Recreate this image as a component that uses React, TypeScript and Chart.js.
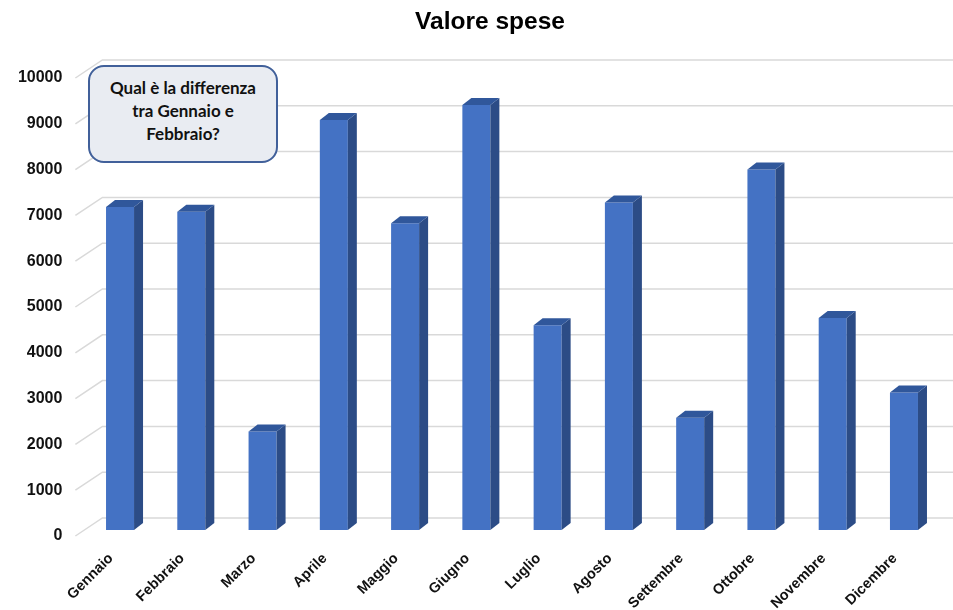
import React, { useEffect, useRef } from "react";
import { Chart, registerables } from "chart.js";

Chart.register(...registerables);

const months = [
  "Gennaio", "Febbraio", "Marzo", "Aprile", "Maggio", "Giugno",
  "Luglio", "Agosto", "Settembre", "Ottobre", "Novembre", "Dicembre",
];
const spese = [7050, 6950, 2150, 8950, 6700, 9280, 4470, 7150, 2450, 7870, 4630, 3000];
const yTicks = [0, 1000, 2000, 3000, 4000, 5000, 6000, 7000, 8000, 9000, 10000];
const chartTitle = "Valore spese";
const noteLines = ["Qual è la differenza", "tra Gennaio e", "Febbraio?"];

const FRONT = "#4472C4";
const SIDE = "#2C4C86";
const TOP = "#30579B";
const GRID = "#D9D9D9";
const FONT = "'Liberation Sans', Arial, sans-serif";

const depthPlugin = {
  id: "depth3d",
  beforeDatasetsDraw(chart: any) {
    const { ctx, chartArea } = chart;
    const y = chart.scales.y;
    const frontX = chartArea.left - 9;
    const backX = chartArea.left + 18;
    ctx.save();
    ctx.strokeStyle = GRID;
    ctx.lineWidth = 1.5;
    for (const v of yTicks) {
      const p = y.getPixelForValue(v);
      ctx.beginPath();
      ctx.moveTo(frontX, p + 6);
      ctx.lineTo(backX, p - 12);
      ctx.lineTo(chart.width, p - 12);
      ctx.stroke();
    }
    ctx.restore();
  },
  afterDatasetsDraw(chart: any) {
    const { ctx } = chart;
    const meta = chart.getDatasetMeta(0);
    const dx = 9;
    const dy = -7;
    ctx.save();
    meta.data.forEach((bar: any) => {
      const { x, y, base, width } = bar.getProps(["x", "y", "base", "width"], true);
      const l = x - width / 2;
      const r = x + width / 2;
      ctx.fillStyle = SIDE;
      ctx.beginPath();
      ctx.moveTo(r, y);
      ctx.lineTo(r + dx, y + dy);
      ctx.lineTo(r + dx, base + dy);
      ctx.lineTo(r, base);
      ctx.closePath();
      ctx.fill();
      ctx.fillStyle = TOP;
      ctx.beginPath();
      ctx.moveTo(l, y);
      ctx.lineTo(l + dx, y + dy);
      ctx.lineTo(r + dx, y + dy);
      ctx.lineTo(r, y);
      ctx.closePath();
      ctx.fill();
    });
    ctx.restore();
  },
  afterDraw(chart: any) {
    const { ctx, chartArea } = chart;
    ctx.save();
    ctx.fillStyle = "#000";
    ctx.font = `bold 24.5px ${FONT}`;
    ctx.textAlign = "center";
    ctx.textBaseline = "middle";
    ctx.fillText(chartTitle, chartArea.left + 405.6, 22);
    ctx.restore();
  },
};

export default function App() {
  const ref = useRef<HTMLCanvasElement | null>(null);

  useEffect(() => {
    if (!ref.current) return;
    const chart = new Chart(ref.current, {
      type: "bar",
      data: {
        labels: months,
        datasets: [
          {
            data: spese,
            backgroundColor: FRONT,
            borderWidth: 0,
            barPercentage: 0.393,
            categoryPercentage: 1,
          },
        ],
      },
      options: {
        animation: false,
        responsive: true,
        maintainAspectRatio: false,
        layout: { padding: { left: 0, right: 13.4, top: 72, bottom: 0 } },
        plugins: {
          legend: { display: false },
          tooltip: { enabled: false },
          title: { display: false },
        },
        scales: {
          x: {
            grid: { display: false, drawTicks: false },
            border: { display: false },
            ticks: {
              color: "#111",
              font: { family: FONT, size: 14.5, weight: "bold" },
              minRotation: 45,
              maxRotation: 45,
              padding: 20,
              labelOffset: -9,
              autoSkip: false,
            },
            afterFit(scale: any) {
              scale.height = 80;
            },
          },
          y: {
            min: 0,
            max: 10000,
            grid: { display: false, drawTicks: false },
            border: { display: false },
            afterBuildTicks(scale: any) {
              scale.ticks = yTicks.map((v) => ({ value: v }));
            },
            ticks: {
              color: "#111",
              font: { family: FONT, size: 16, weight: "bold" },
              padding: 22,
              labelOffset: 6,
              callback: (v: any) => String(v),
            },
            afterFit(scale: any) {
              scale.width = 84.4;
            },
          },
        },
      },
      plugins: [depthPlugin],
    });
    return () => chart.destroy();
  }, []);

  return (
    <div style={{ position: "fixed", left: 0, top: 0, width: 953, height: 610, background: "#fff" }}>
      <canvas ref={ref} />
      <div
        style={{
          position: "absolute",
          left: 88,
          top: 65,
          width: 190,
          height: 98,
          boxSizing: "border-box",
          border: "2px solid #41609A",
          borderRadius: 16,
          background: "#E9ECF2",
          fontFamily: "Lato, 'Noto Sans', sans-serif",
          fontWeight: 700,
          fontSize: 17,
          lineHeight: "23px",
          color: "#111",
          textAlign: "center",
          paddingTop: 9,
        }}
      >
        {noteLines.map((t, i) => (
          <div key={i}>{t}</div>
        ))}
      </div>
    </div>
  );
}
